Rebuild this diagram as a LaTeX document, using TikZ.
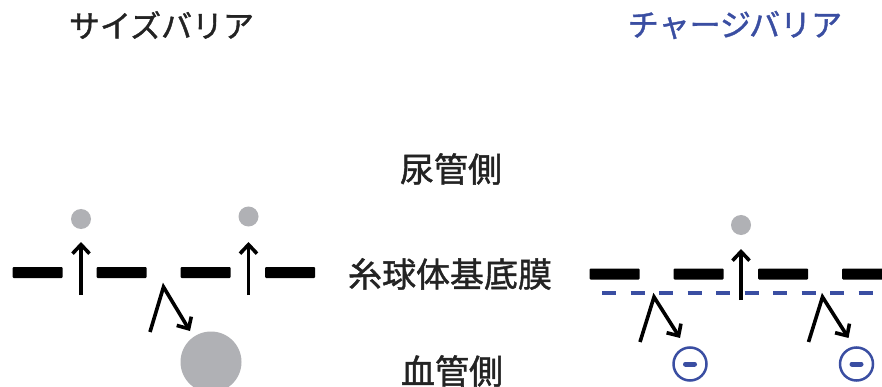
\documentclass[tikz,border=0pt]{standalone}
\usepackage{fontspec}
\newfontfamily\jp{Noto Sans CJK JP}[FakeBold=1.3]
\usetikzlibrary{arrows.meta}
\definecolor{barblue}{RGB}{58,78,162}
\definecolor{partgray}{RGB}{176,177,181}
\definecolor{titlegray}{RGB}{35,35,35}
\tikzset{
  membar/.style={rectangle, fill=black, minimum width=50pt, minimum height=11pt, inner sep=0pt, rounded corners=1pt},
  smallpart/.style={circle, fill=partgray, minimum size=20pt, inner sep=0pt},
  bigpart/.style={circle, fill=partgray, minimum size=61pt, inner sep=0pt},
  charge/.style={circle, draw=barblue, line width=2.5pt, minimum size=33pt, inner sep=0pt},
  passarrow/.style={line width=3.6pt, -{Straight Barb[length=9pt,width=17pt,line width=3.6pt]}},
  label/.style={font=\jp\fontsize{34}{34}\selectfont, text=titlegray, inner sep=0pt},
  title/.style={font=\jp\fontsize{31}{31}\selectfont, inner sep=0pt},
}
\begin{document}
\begin{tikzpicture}[x=1pt,y=-1pt]
\useasboundingbox[fill=white] (0,0) rectangle (882,387);
% titles
\node[title, text=titlegray] (tsize) at (161.5,25) {サイズバリア};
\node[title, text=barblue] (tcharge) at (735,25) {チャージバリア};
% middle labels
\node[label] (urine) at (451,169) {尿管側};
\node[label] (gbm) at (450,274) {糸球体基底膜};
\node[label] (blood) at (452,371) {血管側};
% left membrane
\node[membar] (l1) at (37.7,272.5) {};
\node[membar] (l2) at (121.7,272.5) {};
\node[membar] (l3) at (205.7,272.5) {};
\node[membar] (l4) at (290,272.5) {};
\node[smallpart] (lp1) at (81,219) {};
\node[smallpart] (lp2) at (248.5,216.5) {};
\node[bigpart] (lbig) at (211,362) {};
\coordinate (la1) at (81,295);
\coordinate (la1t) at (81,242);
\coordinate (la2) at (248.5,295);
\coordinate (la2t) at (248.5,242);
\draw[passarrow] (la1) -- (la1t);
\draw[passarrow] (la2) -- (la2t);
\coordinate (lb0) at (150,332);
\coordinate (lb1) at (163.5,287);
\coordinate (lb2) at (190,331);
\draw[passarrow, line join=miter] (lb0) -- (lb1) -- (lb2);
% right membrane
\node[membar] (r1) at (614.5,274) {};
\node[membar] (r2) at (698.5,274) {};
\node[membar] (r3) at (783,274) {};
\node[membar] (r4) at (867,274) {};
\coordinate (dl0) at (602,293);
\coordinate (dl1) at (890,293);
\draw[barblue, line width=3.5pt, dash pattern=on 14pt off 14.5pt] (dl0) -- (dl1);
\node[smallpart] (rp1) at (741,225) {};
\coordinate (ra0) at (741,300);
\coordinate (ra1) at (741,249);
\draw[passarrow] (ra0) -- (ra1);
\coordinate (rb0) at (640,342);
\coordinate (rb1) at (654,297);
\coordinate (rb2) at (680,338);
\draw[passarrow, line join=miter] (rb0) -- (rb1) -- (rb2);
\coordinate (rc0) at (808.5,342);
\coordinate (rc1) at (822.5,297);
\coordinate (rc2) at (848.5,338);
\draw[passarrow, line join=miter] (rc0) -- (rc1) -- (rc2);
\node[charge] (m1) at (690,364) {};
\node[charge] (m2) at (856.5,364) {};
\draw[barblue, line width=5pt, line cap=round] ([xshift=-4.5pt]m1.center) -- ([xshift=4.5pt]m1.center);
\draw[barblue, line width=5pt, line cap=round] ([xshift=-4.5pt]m2.center) -- ([xshift=4.5pt]m2.center);
\end{tikzpicture}
\end{document}
